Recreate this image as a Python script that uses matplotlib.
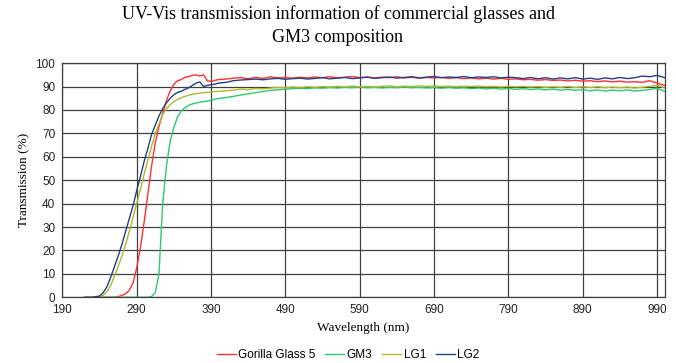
import matplotlib
matplotlib.use('Agg')
import matplotlib.pyplot as plt

# wavelength grid (nm): 5 nm steps across the absorption edge, 10 nm after
wavelength = list(range(220, 401, 5)) + list(range(410, 1001, 10))

gorilla_glass_5 = [
    0, 0, 0, 0, 0, 0, 0, 0, 0, 0.3, 0.8, 1.5, 3, 6, 12.5, 21, 32, 44, 56, 66,
    73, 78.5, 84, 88, 91, 92.5, 93, 94, 94.2, 94.8, 95, 94.5, 95, 92.5, 92.2, 92.6, 93,
    93.2, 93.6, 93.8, 93.4, 93.9, 93.5, 94.2, 93.7, 93.9, 93.6, 94, 93.7, 94.1, 93.8, 94.2,
    93.7, 94, 94.3, 93.8, 94.1, 93.7, 94, 93.8, 94.2, 93.7, 94, 93.6, 93.9, 93.7, 93.9,
    93.5, 93.8, 93.4, 93.7, 93.3, 93.6, 93.2, 93.5, 93.1, 93.3, 92.9, 93.1, 92.7, 93,
    92.6, 92.8, 92.4, 92.7, 92.3, 92.5, 92.1, 92.4, 92, 92.3, 91.9, 92.1, 91.8, 92.5, 91.5, 90.5,
]

gm3 = [
    0, 0, 0, 0, 0, 0, 0, 0, 0, 0, 0, 0, 0, 0, 0, 0, 0, 0, 0.3, 2,
    10, 40, 56, 66.5, 72.5, 77, 79.5, 81, 82, 82.6, 83, 83.3, 83.6, 83.8, 84.1, 84.6, 84.9,
    85.3, 85.8, 86.4, 86.9, 87.4, 87.9, 88.4, 88.6, 88.9, 89.1, 89.3, 89.1, 89.5, 89.3, 89.6,
    89.4, 89.7, 89.5, 89.8, 89.5, 89.7, 89.4, 89.7, 89.5, 89.8, 89.5, 89.7, 89.4, 89.6, 89.3,
    89.6, 89.3, 89.5, 89.1, 89.4, 89, 89.3, 88.9, 89.2, 88.8, 89.1, 88.7, 89, 88.6,
    88.9, 88.5, 88.8, 88.4, 88.7, 88.2, 88.6, 88.1, 88.5, 88.2, 88.6, 88.1, 88.4, 88.7, 89.3, 88,
]

lg1 = [
    0, 0, 0, 0, 0.3, 0.8, 2.5, 5, 9, 13, 17.5, 22.5, 28, 34, 40, 46, 52.5, 58.5, 64.5, 70,
    74, 78, 80.5, 82.3, 83.5, 84.5, 85.2, 85.8, 86.3, 86.7, 87, 87.2, 87.4, 87.5, 87.7, 87.9, 88,
    88.2, 88.5, 88.9, 88.7, 89.2, 89, 89.4, 89.6, 89.5, 89.8, 89.6, 89.9, 89.7, 90, 89.8,
    90.1, 89.9, 90.2, 89.9, 90.1, 89.8, 90.1, 90.3, 89.9, 90.2, 90, 90.3, 90.1, 90.3, 90,
    90.2, 89.9, 90.2, 90, 90.2, 89.9, 90.1, 89.8, 90.1, 89.9, 90.1, 89.8, 90, 89.7,
    89.9, 89.7, 90, 89.6, 89.9, 89.6, 89.9, 89.5, 89.8, 89.5, 89.8, 89.4, 89.7, 90.1, 90.5, 89.5,
]

lg2 = [
    0, 0, 0, 0.3, 0.5, 2, 4.5, 8.5, 13, 17.5, 22.5, 28, 33.5, 39, 45.5, 51.5, 58, 63.5, 69.5, 73.5,
    77.5, 80.5, 83, 85, 86.5, 87.5, 88, 88.8, 89.5, 90.5, 91.5, 92, 90, 90.5, 90.8, 91, 91.5,
    91.8, 92.5, 92.8, 93, 93.2, 92.9, 93.3, 93.5, 93.1, 93.4, 93.6, 93.2, 93.5, 93.8, 93.3,
    93.6, 93.9, 93.4, 93.7, 94, 93.5, 93.8, 94.1, 93.6, 93.9, 94.2, 93.7, 94, 94.3, 93.8,
    94.1, 93.9, 94.3, 93.8, 94.1, 93.9, 94.2, 93.7, 94, 93.8, 93.4, 93.9, 93.3, 93.8,
    93.2, 93.7, 93.3, 93.8, 93.2, 93.6, 93.1, 93.7, 93.3, 93.9, 93.4, 93.8, 94.5, 94.2, 94.8, 93.8,
]

series = [
    ('Gorilla Glass 5', gorilla_glass_5, '#ff3030'),
    ('GM3', gm3, '#2ec872'),
    ('LG1', lg1, '#b0b82a'),
    ('LG2', lg2, '#243f86'),
]

fig = plt.figure(figsize=(6.76, 3.63), dpi=100)
ax = fig.add_axes([0.0922, 0.181, 0.8908, 0.645])

for name, vals, col in series:
    ax.plot(wavelength, vals, color=col, linewidth=1.0, label=name)

ax.set_xlim(190, 1000)
ax.set_ylim(0, 100)
ax.set_xticks(range(190, 1000, 100))
ax.set_yticks(range(0, 101, 10))
ax.grid(True, color='#404040', linewidth=0.9)
ax.set_axisbelow(True)
ax.tick_params(length=0, labelsize=8.5, pad=5, labelcolor='#222222')
for lbl in ax.get_xticklabels() + ax.get_yticklabels():
    lbl.set_family('Liberation Sans')
for s in ax.spines.values():
    s.set_color('#404040')
    s.set_linewidth(0.9)

ax.set_xlabel('Wavelength (nm)', family='Liberation Serif', fontsize=9.5, labelpad=4)
ax.set_ylabel('Transmission (%)', family='Liberation Serif', fontsize=9.5, labelpad=4)
fig.text(0.5, 0.985, 'UV-Vis transmission information of commercial glasses and\nGM3 composition',
         ha='center', va='top', family='Liberation Serif', fontsize=13, linespacing=1.4)

fig.legend(loc='lower center', bbox_to_anchor=(0.515, -0.025), ncol=4, frameon=False,
           prop={'family': 'Liberation Sans', 'size': 8.5}, handlelength=1.6,
           handletextpad=0.2, columnspacing=0.85)

fig.savefig('out.png', dpi=100)
